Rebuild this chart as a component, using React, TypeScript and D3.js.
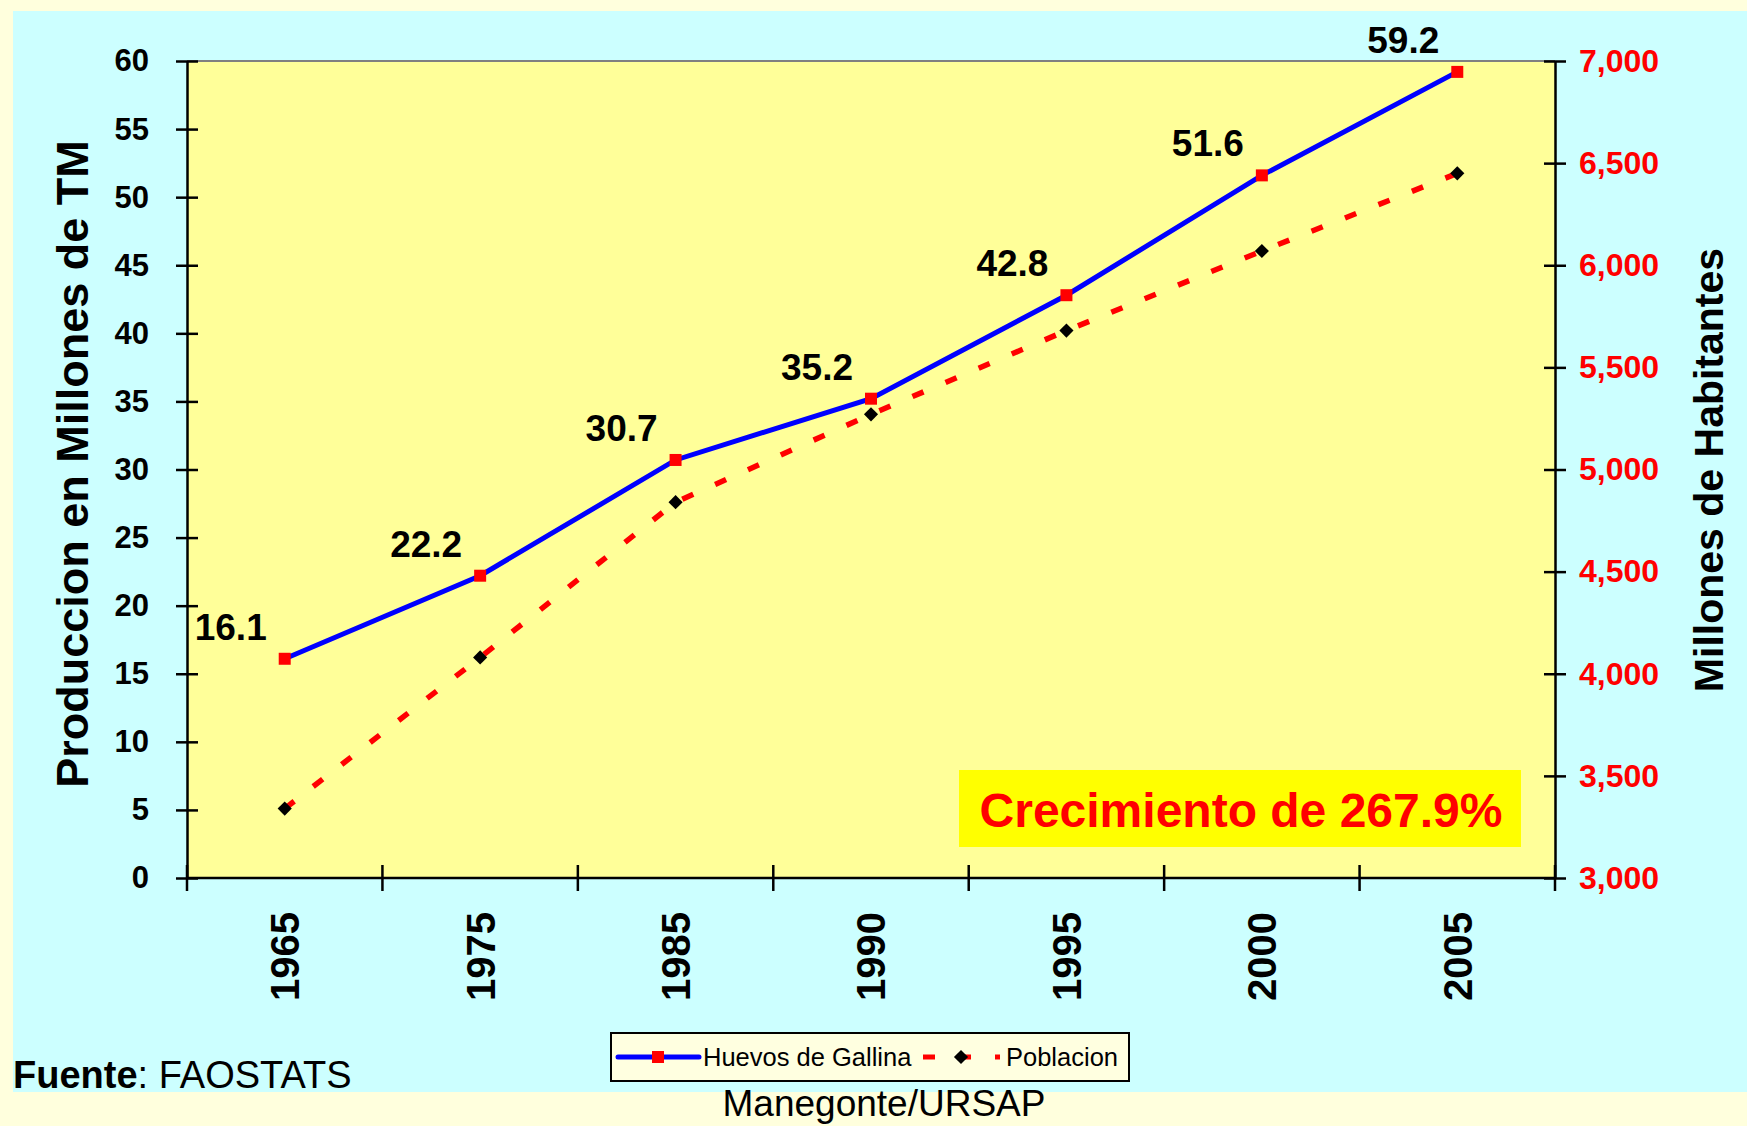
import React, { useEffect, useRef } from 'react';
import * as d3 from 'd3';

const years = ['1965', '1975', '1985', '1990', '1995', '2000', '2005'];
const huevos = [16.1, 22.2, 30.7, 35.2, 42.8, 51.6, 59.2];
const poblacion = [3340, 4080, 4840, 5270, 5680, 6070, 6450];
const leftTicks = [0, 5, 10, 15, 20, 25, 30, 35, 40, 45, 50, 55, 60];
const rightTicks = [3000, 3500, 4000, 4500, 5000, 5500, 6000, 6500, 7000];

const FONT = '"Liberation Sans", Arial, sans-serif';

const App = () => {
  const ref = useRef<SVGSVGElement>(null);

  useEffect(() => {
    const width = 1747,
      height = 1126;
    const svg = d3.select(ref.current).attr('width', width).attr('height', height);
    svg.selectAll('*').remove();

    const left = 187,
      right = 1555,
      top = 61,
      bottom = 878;

    const x = d3.scaleBand().domain(years).range([left, right]);
    const yL = d3.scaleLinear().domain([0, 60]).range([bottom, top]);
    const yR = d3.scaleLinear().domain([3000, 7000]).range([bottom, top]);
    const cx = (d: string) => (x(d) as number) + x.bandwidth() / 2;

    // backgrounds
    svg.append('rect').attr('width', width).attr('height', height).attr('fill', '#FFFFDD');
    svg.append('rect').attr('x', 13).attr('y', 11).attr('width', width - 13).attr('height', 1081).attr('fill', '#CCFFFF');
    svg
      .append('rect')
      .attr('x', left)
      .attr('y', top)
      .attr('width', right - left)
      .attr('height', bottom - top)
      .attr('fill', '#FFFF99');
    svg
      .append('line')
      .attr('x1', left)
      .attr('x2', right)
      .attr('y1', top)
      .attr('y2', top)
      .attr('stroke', '#808080')
      .attr('stroke-width', 2);

    // annotation box
    svg.append('rect').attr('x', 959).attr('y', 770).attr('width', 562).attr('height', 77).attr('fill', '#FFFF00');
    svg
      .append('text')
      .attr('x', 1241)
      .attr('y', 827)
      .attr('text-anchor', 'middle')
      .attr('font-family', FONT)
      .attr('font-weight', 'bold')
      .attr('font-size', 48)
      .attr('fill', '#FF0000')
      .text('Crecimiento de 267.9%');

    // left axis
    const axL = svg.append('g').attr('transform', `translate(${left},0)`);
    axL.call(d3.axisLeft(yL).tickValues(leftTicks).tickSize(0).tickPadding(38));
    axL.select('.domain').attr('stroke', '#000').attr('stroke-width', 2.5);
    axL.selectAll('.tick text').attr('font-family', FONT).attr('font-weight', 'bold').attr('font-size', 31).attr('fill', '#000');
    axL
      .selectAll('.tick')
      .append('line')
      .attr('x1', -11)
      .attr('x2', 11)
      .attr('stroke', '#000')
      .attr('stroke-width', 2.5);

    // right axis
    const axR = svg.append('g').attr('transform', `translate(${right},0)`);
    axR.call(d3.axisRight(yR).tickValues(rightTicks).tickFormat(d3.format(',')).tickSize(0).tickPadding(24));
    axR.select('.domain').attr('stroke', '#000').attr('stroke-width', 2.5);
    axR.selectAll('.tick text').attr('font-family', FONT).attr('font-weight', 'bold').attr('font-size', 32).attr('fill', '#FF0000');
    axR
      .selectAll('.tick')
      .append('line')
      .attr('x1', -11)
      .attr('x2', 11)
      .attr('stroke', '#000')
      .attr('stroke-width', 2.5);

    // bottom axis
    const axB = svg.append('g').attr('transform', `translate(0,${bottom})`);
    axB.append('line').attr('x1', left).attr('x2', right).attr('stroke', '#000').attr('stroke-width', 2.5);
    axB
      .selectAll('line.tk')
      .data([...years.map((d) => x(d) as number), right])
      .enter()
      .append('line')
      .attr('class', 'tk')
      .attr('x1', (d) => d)
      .attr('x2', (d) => d)
      .attr('y1', -13)
      .attr('y2', 13)
      .attr('stroke', '#000')
      .attr('stroke-width', 2.5);
    axB
      .selectAll('text')
      .data(years)
      .enter()
      .append('text')
      .attr('transform', (d) => `translate(${cx(d)},34) rotate(-90)`)
      .attr('text-anchor', 'end')
      .attr('dy', '0.36em')
      .attr('font-family', FONT)
      .attr('font-weight', 'bold')
      .attr('font-size', 40)
      .attr('fill', '#000')
      .text((d) => d);

    // axis titles
    svg
      .append('text')
      .attr('transform', 'translate(72,464) rotate(-90)')
      .attr('text-anchor', 'middle')
      .attr('dy', '0.36em')
      .attr('font-family', FONT)
      .attr('font-weight', 'bold')
      .attr('font-size', 45)
      .attr('fill', '#000')
      .text('Produccion en Millones de TM');
    svg
      .append('text')
      .attr('transform', 'translate(1708,470) rotate(-90)')
      .attr('text-anchor', 'middle')
      .attr('dy', '0.36em')
      .attr('font-family', FONT)
      .attr('font-weight', 'bold')
      .attr('font-size', 41)
      .attr('fill', '#000')
      .text('Millones de Habitantes');

    // Huevos de Gallina
    const lineL = d3
      .line<number>()
      .x((_, i) => cx(years[i]))
      .y((d) => yL(d));
    svg
      .append('path')
      .datum(huevos)
      .attr('d', lineL)
      .attr('fill', 'none')
      .attr('stroke', '#0000FF')
      .attr('stroke-width', 5);
    const sq = d3.symbol().type(d3.symbolSquare).size(144)();
    svg
      .selectAll('path.sq')
      .data(huevos)
      .enter()
      .append('path')
      .attr('class', 'sq')
      .attr('d', sq)
      .attr('transform', (d, i) => `translate(${cx(years[i])},${yL(d)})`)
      .attr('fill', '#FF0000');
    svg
      .selectAll('text.lbl')
      .data(huevos)
      .enter()
      .append('text')
      .attr('class', 'lbl')
      .attr('x', (_, i) => cx(years[i]) - 54)
      .attr('y', (d) => yL(d) - 19)
      .attr('text-anchor', 'middle')
      .attr('font-family', FONT)
      .attr('font-weight', 'bold')
      .attr('font-size', 37)
      .attr('fill', '#000')
      .text((d) => d.toFixed(1));

    // Poblacion
    const lineR = d3
      .line<number>()
      .x((_, i) => cx(years[i]))
      .y((d) => yR(d));
    svg
      .append('path')
      .datum(poblacion)
      .attr('d', lineR)
      .attr('fill', 'none')
      .attr('stroke', '#FF0000')
      .attr('stroke-width', 5.5)
      .attr('stroke-dasharray', '12 24');
    const dia = d3.symbol().type(d3.symbolSquare).size(100)();
    svg
      .selectAll('path.dia')
      .data(poblacion)
      .enter()
      .append('path')
      .attr('class', 'dia')
      .attr('d', dia)
      .attr('transform', (d, i) => `translate(${cx(years[i])},${yR(d)}) rotate(45)`)
      .attr('fill', '#000');

    // legend
    const lg = svg.append('g');
    lg.append('rect')
      .attr('x', 611)
      .attr('y', 1033)
      .attr('width', 518)
      .attr('height', 48)
      .attr('fill', '#FFFFE0')
      .attr('stroke', '#000')
      .attr('stroke-width', 2);
    lg.append('line').attr('x1', 618).attr('x2', 699).attr('y1', 1057).attr('y2', 1057).attr('stroke', '#0000FF').attr('stroke-width', 5).attr('stroke-linecap', 'round');
    lg.append('path').attr('d', sq).attr('transform', 'translate(658,1057)').attr('fill', '#FF0000');
    lg.append('line')
      .attr('x1', 923)
      .attr('x2', 1000)
      .attr('y1', 1057)
      .attr('y2', 1057)
      .attr('stroke', '#FF0000')
      .attr('stroke-width', 5)
      .attr('stroke-dasharray', '12 24');
    lg.append('path').attr('d', dia).attr('transform', 'translate(961,1057) rotate(45)').attr('fill', '#000');
    lg.selectAll('text')
      .data([
        { t: 'Huevos de Gallina', x: 703 },
        { t: 'Poblacion', x: 1006 },
      ])
      .enter()
      .append('text')
      .attr('x', (d) => d.x)
      .attr('y', 1066)
      .attr('font-family', FONT)
      .attr('font-size', 25.5)
      .attr('fill', '#000')
      .text((d) => d.t);

    // footer texts
    const f = svg
      .append('text')
      .attr('x', 13)
      .attr('y', 1088)
      .attr('font-family', FONT)
      .attr('font-size', 38)
      .attr('fill', '#000');
    f.append('tspan').attr('font-weight', 'bold').text('Fuente');
    f.append('tspan').text(': FAOSTATS');
    svg
      .append('text')
      .attr('x', 884)
      .attr('y', 1116)
      .attr('text-anchor', 'middle')
      .attr('font-family', FONT)
      .attr('font-size', 37)
      .attr('fill', '#000')
      .text('Manegonte/URSAP');
  }, []);

  return <svg ref={ref} style={{ position: 'absolute', left: 0, top: 0 }} />;
};

export default App;
